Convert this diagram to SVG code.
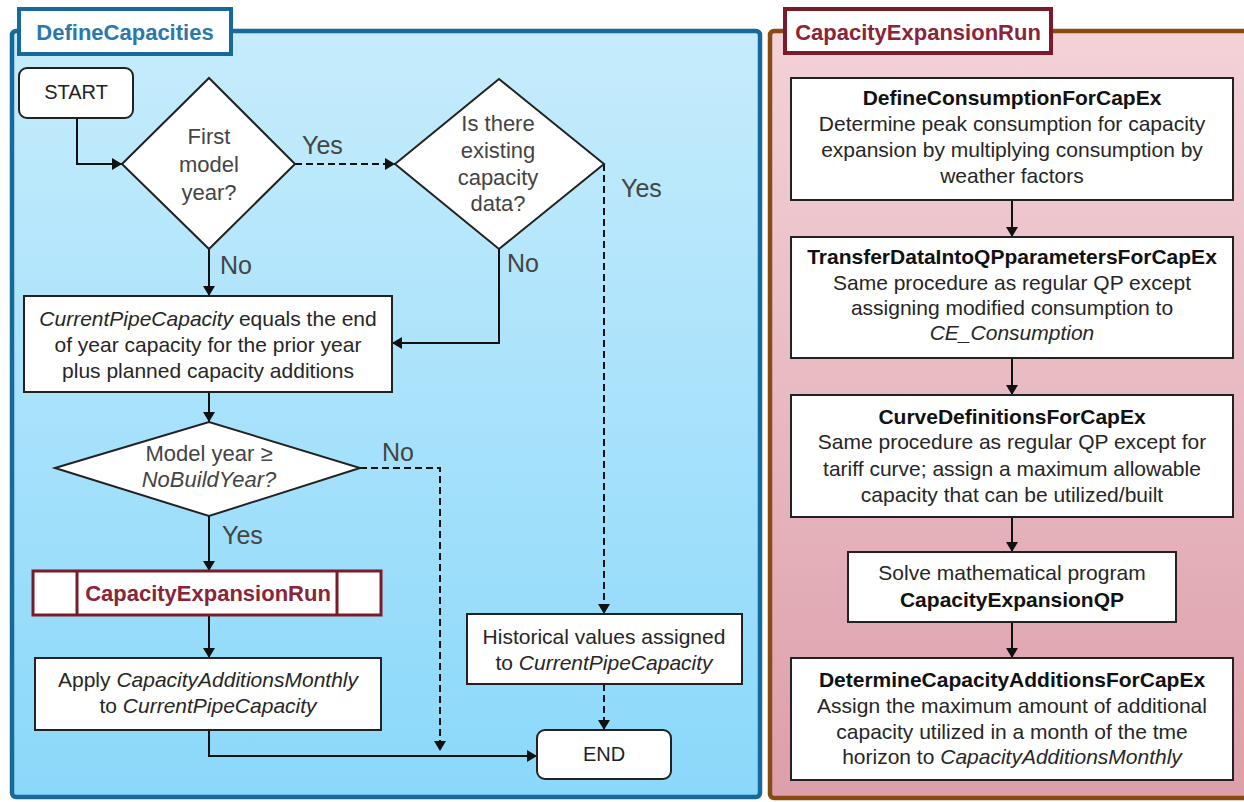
<svg xmlns="http://www.w3.org/2000/svg" width="1244" height="802" viewBox="0 0 1244 802">
<defs>
<linearGradient id="gBlue" x1="0" y1="0" x2="0" y2="1">
<stop offset="0" stop-color="#c6ecfc"/>
<stop offset="1" stop-color="#8ad8fa"/>
</linearGradient>
<linearGradient id="gPink" x1="0" y1="0" x2="0" y2="1">
<stop offset="0" stop-color="#f3d2d8"/>
<stop offset="1" stop-color="#dd9fa9"/>
</linearGradient>
<marker id="arr" viewBox="0 0 10 12" refX="10" refY="6" markerWidth="10" markerHeight="12" markerUnits="userSpaceOnUse" orient="auto">
<path d="M0,0 L10,6 L0,12 z" fill="#111"/>
</marker>
</defs>
<style>
text{font-family:"Liberation Sans",Arial,sans-serif;}
.box{fill:#fff;stroke:#222;stroke-width:2;}
.dia{fill:#fff;stroke:#222;stroke-width:2;}
.t{font-size:21px;fill:#262626;text-anchor:middle;}
.b{font-weight:bold;fill:#111;}
.i{font-style:italic;}
.dt{font-size:22px;fill:#444;text-anchor:middle;}
.lbl{font-size:25px;fill:#444;}
.ln{fill:none;stroke:#111;stroke-width:2;marker-end:url(#arr);}
.dash{stroke-dasharray:7,4;}
</style>
<rect width="1244" height="802" fill="#fff"/>
<g id="panelLeft">
<rect x="12" y="31" width="748" height="766" rx="4" fill="url(#gBlue)" stroke="#15699b" stroke-width="4.5"/>
<rect x="19" y="9" width="212" height="45" fill="#fff" stroke="#15699b" stroke-width="4"/>
<text x="125" y="40" font-size="22" font-weight="bold" fill="#2a78ad" text-anchor="middle">DefineCapacities</text>
</g>
<g id="panelRight">
<rect x="770" y="31" width="500" height="767" rx="4" fill="url(#gPink)" stroke="#8a4b12" stroke-width="4.5"/>
<rect x="785" y="9" width="266" height="44" fill="#fff" stroke="#7a1a2b" stroke-width="4"/>
<text x="918" y="40" font-size="22" font-weight="bold" fill="#8a2438" text-anchor="middle">CapacityExpansionRun</text>
</g>
<g id="connectors">
<path class="ln" d="M77,118 V164 H122"/>
<path class="ln dash" d="M295,164 H395"/>
<path class="ln" d="M209,249 V296"/>
<path class="ln" d="M499,249 V343 H392"/>
<path class="ln dash" d="M604,164 V614"/>
<path class="ln" d="M209,392 V422"/>
<path class="ln dash" d="M360,468 H440 V751"/>
<path class="ln" d="M209,516 V571"/>
<path class="ln" d="M209,615 V658"/>
<path class="ln" d="M209,730 V756 H537"/>
<path class="ln dash" d="M604,684 V730"/>
<path class="ln" d="M1012,200 V237"/>
<path class="ln" d="M1012,358 V395"/>
<path class="ln" d="M1012,517 V552"/>
<path class="ln" d="M1012,622 V658"/>
<text class="lbl" x="302" y="154">Yes</text>
<text class="lbl" x="220" y="274">No</text>
<text class="lbl" x="507" y="272">No</text>
<text class="lbl" x="621" y="197">Yes</text>
<text class="lbl" x="382" y="461">No</text>
<text class="lbl" x="222" y="544">Yes</text>
</g>
<g id="start">
<rect class="box" x="19" y="68" width="114" height="50" rx="8"/>
<text x="76" y="99" font-size="20" fill="#222" text-anchor="middle">START</text>
</g>
<g id="firstYear">
<polygon class="dia" points="122,164 209,78 295,164 209,249"/>
<text class="dt" x="209" y="144" font-size="23">First</text>
<text class="dt" x="209" y="172" font-size="23">model</text>
<text class="dt" x="209" y="200" font-size="23">year?</text>
</g>
<g id="existingData">
<polygon class="dia" points="395,164 499,79 604,164 499,249"/>
<text class="dt" x="498" y="131">Is there</text>
<text class="dt" x="498" y="158">existing</text>
<text class="dt" x="498" y="185">capacity</text>
<text class="dt" x="498" y="211">data?</text>
</g>
<g id="currentPipe">
<rect class="box" x="24" y="296" width="368" height="96"/>
<text class="t" x="208" y="326"><tspan class="i">CurrentPipeCapacity</tspan> equals the end</text>
<text class="t" x="208" y="352">of year capacity for the prior year</text>
<text class="t" x="208" y="378">plus planned capacity additions</text>
</g>
<g id="noBuild">
<polygon class="dia" points="55,468 209,422 360,468 209,516"/>
<text class="dt" x="209" y="461" font-size="21">Model year ≥</text>
<text class="dt i" x="209" y="487" font-size="21">NoBuildYear?</text>
</g>
<g id="capExpRun">
<rect x="33" y="571" width="348" height="44" fill="#fff" stroke="#7b1a2b" stroke-width="3"/>
<line x1="77" y1="571" x2="77" y2="615" stroke="#7b1a2b" stroke-width="3"/>
<line x1="337" y1="571" x2="337" y2="615" stroke="#7b1a2b" stroke-width="3"/>
<text x="208" y="601" font-size="22" font-weight="bold" fill="#8a2438" text-anchor="middle">CapacityExpansionRun</text>
</g>
<g id="applyAdditions">
<rect class="box" x="35" y="658" width="346" height="72"/>
<text class="t" x="208" y="687">Apply <tspan class="i">CapacityAdditionsMonthly</tspan></text>
<text class="t" x="208" y="713">to <tspan class="i">CurrentPipeCapacity</tspan></text>
</g>
<g id="historical">
<rect class="box" x="467" y="614" width="275" height="70"/>
<text class="t" x="604" y="644">Historical values assigned</text>
<text class="t" x="604" y="670">to <tspan class="i">CurrentPipeCapacity</tspan></text>
</g>
<g id="end">
<rect class="box" x="537" y="730" width="134" height="49" rx="8"/>
<text x="604" y="761" font-size="20" fill="#222" text-anchor="middle">END</text>
</g>
<g id="defineConsumption">
<rect class="box" x="791" y="78" width="442" height="122"/>
<text class="t b" x="1012" y="105">DefineConsumptionForCapEx</text>
<text class="t" x="1012" y="131">Determine peak consumption for capacity</text>
<text class="t" x="1012" y="157">expansion by multiplying  consumption by</text>
<text class="t" x="1012" y="183">weather factors</text>
</g>
<g id="transferData">
<rect class="box" x="791" y="237" width="442" height="121"/>
<text class="t b" x="1012" y="264">TransferDataIntoQPparametersForCapEx</text>
<text class="t" x="1012" y="290">Same procedure as regular QP except</text>
<text class="t" x="1012" y="315">assigning modified consumption to</text>
<text class="t i" x="1012" y="340">CE_Consumption</text>
</g>
<g id="curveDefinitions">
<rect class="box" x="791" y="395" width="442" height="122"/>
<text class="t b" x="1012" y="424">CurveDefinitionsForCapEx</text>
<text class="t" x="1012" y="449">Same procedure as regular QP except for</text>
<text class="t" x="1012" y="476">tariff curve; assign a maximum allowable</text>
<text class="t" x="1012" y="502">capacity that can be utilized/built</text>
</g>
<g id="solveQP">
<rect class="box" x="848" y="552" width="328" height="70"/>
<text class="t" x="1012" y="580">Solve mathematical program</text>
<text class="t b" x="1012" y="607">CapacityExpansionQP</text>
</g>
<g id="determineAdditions">
<rect class="box" x="791" y="658" width="442" height="122"/>
<text class="t b" x="1012" y="687">DetermineCapacityAdditionsForCapEx</text>
<text class="t" x="1012" y="713">Assign the maximum amount of additional</text>
<text class="t" x="1012" y="739">capacity utilized in a month of the tme</text>
<text class="t" x="1012" y="764">horizon to <tspan class="i">CapacityAdditionsMonthly</tspan></text>
</g>
</svg>
